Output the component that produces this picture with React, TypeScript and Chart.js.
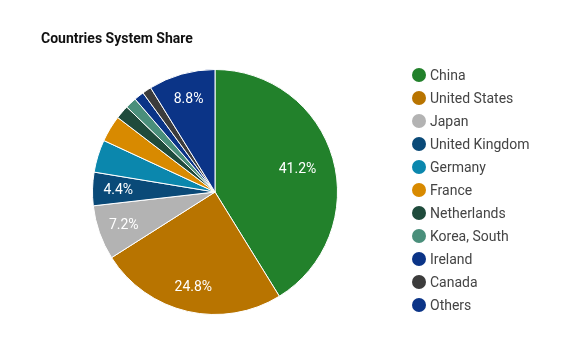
import React, { useEffect, useRef } from "react";
import { Chart, registerables } from "chart.js";

Chart.register(...registerables);

const TITLE = "Countries System Share";
const countries = [
  "China",
  "United States",
  "Japan",
  "United Kingdom",
  "Germany",
  "France",
  "Netherlands",
  "Korea, South",
  "Ireland",
  "Canada",
  "Others",
];
const shares = [41.2, 24.8, 7.2, 4.4, 4.3, 3.5, 1.8, 1.5, 1.3, 1.2, 8.8];
const sliceColors = [
  "#22812b",
  "#b87400",
  "#b3b3b3",
  "#0a4a78",
  "#0b87ad",
  "#d88a00",
  "#1f4b3c",
  "#4a8f7b",
  "#0b3487",
  "#3c3c3c",
  "#0b3487",
];
const labelMin = 4.4;

export default function App() {
  const ref = useRef<HTMLCanvasElement | null>(null);

  useEffect(() => {
    document.body.style.margin = "0";
    const canvas = ref.current;
    if (!canvas) return;

    const overlay = {
      id: "overlay",
      afterDatasetsDraw(chart: any) {
        const ctx = chart.ctx;
        const meta = chart.getDatasetMeta(0);
        ctx.save();
        // slice labels
        ctx.fillStyle = "#ffffff";
        ctx.font = "14px 'Roboto', sans-serif";
        ctx.textAlign = "center";
        ctx.textBaseline = "middle";
        meta.data.forEach((arc: any, i: number) => {
          if (shares[i] < labelMin) return;
          const p = arc.getProps(["x", "y", "startAngle", "endAngle", "outerRadius"], true);
          const mid = (p.startAngle + p.endAngle) / 2;
          const f = shares[i] > 30 ? 0.7 : 0.79;
          const r = p.outerRadius * f;
          ctx.fillText(shares[i].toFixed(1) + "%", p.x + Math.cos(mid) * r, p.y + Math.sin(mid) * r + 1);
        });
        // title
        ctx.fillStyle = "#111111";
        ctx.textAlign = "left";
        ctx.font = "bold 14px 'Roboto', sans-serif";
        ctx.fillText(TITLE, 41, 39);
        // legend
        ctx.font = "14px 'Roboto', sans-serif";
        countries.forEach((c, i) => {
          const y = 75 + i * 23;
          ctx.beginPath();
          ctx.fillStyle = sliceColors[i];
          ctx.arc(419, y, 7, 0, Math.PI * 2);
          ctx.fill();
          ctx.fillStyle = "#444444";
          ctx.fillText(c, 430, y + 1);
        });
        ctx.restore();
      },
    };

    const chart = new Chart(canvas, {
      type: "pie",
      data: {
        labels: countries,
        datasets: [
          {
            data: shares,
            backgroundColor: sliceColors,
            borderColor: "#ffffff",
            borderWidth: 1,
          },
        ],
      },
      options: {
        responsive: false,
        animation: false,
        layout: { padding: { left: 92, right: 242, top: 69, bottom: 38 } },
        plugins: {
          legend: { display: false },
          tooltip: { enabled: false },
          title: { display: false },
        },
      },
      plugins: [overlay],
    });
    return () => chart.destroy();
  }, []);

  return (
    <div style={{ width: 580, height: 353, background: "#ffffff" }}>
      <canvas ref={ref} width={580} height={353} />
    </div>
  );
}
